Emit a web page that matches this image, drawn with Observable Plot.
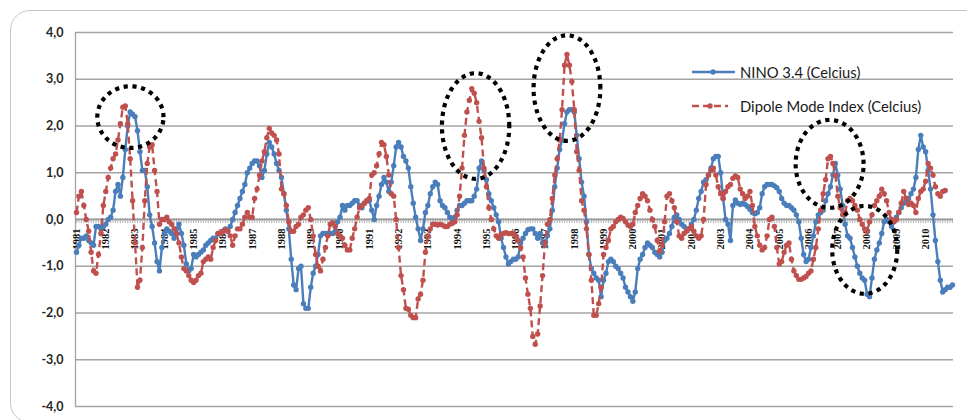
<!DOCTYPE html>
<html><head><meta charset="utf-8">
<script src="https://cdn.jsdelivr.net/npm/d3@7"></script>
<script src="https://cdn.jsdelivr.net/npm/@observablehq/plot@0.6"></script>
<style>
html,body{margin:0;padding:0;background:#fff;overflow:hidden;}
#wrap{position:relative;width:967px;height:420px;overflow:hidden;background:#fff;}
#frame{position:absolute;left:10px;top:10px;width:990px;height:413px;border:1.5px solid #c6c6c6;border-radius:20px;box-sizing:border-box;pointer-events:none}
#chart{position:absolute;left:0;top:0;}
#legend{position:absolute;left:690px;top:55px;font-family:Lato,"Open Sans",sans-serif;font-size:14.8px;color:#1a1a1a;line-height:34px}
#legend div{display:flex;align-items:center;height:34px}
#legend svg{margin-right:4px}
[aria-label^="y-axis"] text{font-weight:700;}
</style></head><body>
<div id="wrap"><div id="frame"></div><div id="chart"></div>
<div id="legend">
 <div><svg width="46" height="10"><line x1="2" y1="5" x2="45" y2="5" stroke="#4A7EBB" stroke-width="2.4"/><circle cx="23" cy="5" r="2.7" fill="#4A7EBB"/></svg><span id="l1"></span></div>
 <div><svg width="46" height="10"><line x1="2" y1="5" x2="38" y2="5" stroke="#C0504D" stroke-width="2.4" stroke-dasharray="7,4"/><circle cx="20" cy="5" r="2.7" fill="#C0504D"/></svg><span id="l2"></span></div>
</div></div>
<script>
// ---- data ----
const seriesNames = ["NINO 3.4 (Celcius)", "Dipole Mode Index (Celcius)"];
const firstYear = 1981;
// NINO 3.4 monthly anomalies, Jan 1981 - Dec 2010
const nino = [
 -0.7,-0.55,-0.4,-0.4,-0.35,-0.45,-0.5,-0.55,-0.15,-0.15,-0.2,-0.15,
 -0.1,0.0,0.05,0.2,0.6,0.75,0.5,0.9,1.5,2.0,2.3,2.25,
 2.2,1.9,1.45,1.05,1.05,0.7,0.1,-0.15,-0.5,-0.9,-1.1,-0.6,
 -0.3,-0.2,-0.25,-0.3,-0.4,-0.2,-0.1,-0.3,-0.55,-0.95,-1.1,-1.05,
 -0.75,-0.8,-0.75,-0.7,-0.65,-0.55,-0.5,-0.45,-0.4,-0.4,-0.3,-0.3,
 -0.25,-0.2,-0.25,-0.15,0.0,0.15,0.3,0.45,0.6,0.75,1.0,1.1,
 1.2,1.25,1.25,1.15,0.9,1.05,1.4,1.65,1.55,1.4,1.2,1.05,
 0.9,0.55,0.2,-0.2,-0.85,-1.4,-1.5,-1.05,-1.0,-1.8,-1.9,-1.9,
 -1.45,-1.15,-1.0,-0.75,-0.35,-0.3,-0.3,-0.3,-0.3,-0.3,-0.25,-0.05,
 0.05,0.3,0.2,0.3,0.3,0.35,0.4,0.4,0.3,0.25,0.35,0.4,
 0.4,0.2,0.0,0.3,0.5,0.75,0.9,0.8,0.6,0.8,1.15,1.55,
 1.65,1.55,1.35,1.25,1.1,0.7,0.35,0.05,-0.2,-0.45,-0.2,0.15,
 0.3,0.55,0.7,0.8,0.75,0.4,0.3,0.25,0.15,0.05,0.0,0.05,
 0.2,0.3,0.3,0.35,0.4,0.4,0.4,0.5,0.65,1.1,1.25,1.05,
 0.85,0.55,0.4,0.25,0.1,-0.05,-0.4,-0.6,-0.8,-0.95,-0.9,-0.85,
 -0.85,-0.8,-0.5,-0.4,-0.3,-0.22,-0.2,-0.2,-0.3,-0.4,-0.3,-0.5,
 -0.55,-0.35,-0.2,0.2,0.7,1.1,1.5,1.7,2.05,2.3,2.35,2.35,
 2.3,1.8,1.3,0.8,0.5,-0.05,-0.75,-1.05,-1.15,-1.25,-1.3,-1.65,
 -1.3,-1.15,-0.9,-0.85,-0.9,-1.0,-1.05,-1.15,-1.25,-1.45,-1.55,-1.65,
 -1.75,-1.55,-1.05,-0.85,-0.75,-0.6,-0.5,-0.55,-0.6,-0.7,-0.75,-0.8,
 -0.7,-0.45,-0.4,-0.3,-0.15,0.05,0.1,0.0,-0.1,-0.15,-0.2,-0.2,
 -0.1,0.0,0.2,0.45,0.6,0.8,0.85,0.95,1.1,1.3,1.35,1.35,
 1.0,0.45,0.0,-0.1,-0.45,0.3,0.42,0.35,0.32,0.35,0.32,0.28,
 0.22,0.15,0.12,0.15,0.25,0.55,0.7,0.75,0.75,0.75,0.72,0.68,
 0.6,0.45,0.35,0.3,0.3,0.25,0.2,0.1,-0.05,-0.4,-0.75,-0.9,
 -0.85,-0.6,-0.35,-0.05,0.1,0.15,0.2,0.4,0.55,0.7,0.95,1.2,
 0.95,0.65,0.3,-0.1,-0.35,-0.4,-0.6,-0.8,-1.0,-1.15,-1.25,-1.3,
 -1.6,-1.65,-1.25,-0.85,-0.65,-0.5,-0.3,-0.05,0.0,-0.05,-0.15,-0.05,
 0.05,0.15,0.25,0.35,0.4,0.45,0.55,0.65,0.9,1.5,1.8,1.55,
 1.45,1.05,0.65,0.1,-0.45,-0.9,-1.3,-1.55,-1.5,-1.45,-1.45,-1.4
];
// Dipole Mode Index monthly, Jan 1981 - Sep 2010
const dmi = [
 0.15,0.5,0.6,0.3,0.0,-0.25,-0.7,-1.1,-1.15,-0.75,-0.3,0.3,
 0.6,0.9,1.1,1.3,1.4,1.7,2.05,2.4,2.43,2.05,1.3,0.4,
 -0.5,-1.45,-1.3,-0.6,0.4,1.2,1.55,1.6,1.05,0.6,-0.1,0.0,
 0.0,0.05,-0.05,-0.1,-0.2,-0.3,-0.5,-0.8,-1.05,-1.1,-1.2,-1.3,
 -1.35,-1.3,-1.2,-1.15,-0.9,-0.85,-0.8,-0.85,-0.6,-0.45,-0.3,-0.3,
 -0.25,-0.22,-0.25,-0.35,-0.55,-0.35,-0.2,-0.2,-0.1,0.05,0.15,0.05,
 0.05,0.45,0.65,0.95,1.25,1.45,1.75,1.95,1.85,1.8,1.7,1.4,
 0.65,0.55,0.3,-0.05,-0.25,-0.25,-0.15,-0.1,0.05,0.1,0.2,0.25,
 0.0,-0.35,-0.75,-1.0,-1.1,-0.85,-0.6,-0.35,-0.1,-0.07,-0.15,-0.3,
 -0.35,-0.4,-0.55,-0.65,-0.65,-0.4,-0.2,0.05,0.25,0.3,0.35,0.4,
 0.45,0.95,1.0,1.15,1.4,1.65,1.6,1.35,0.95,0.55,0.5,0.0,
 -0.6,-1.2,-1.5,-1.9,-1.92,-2.05,-2.1,-2.1,-1.7,-1.6,-1.3,-0.7,
 -0.35,-0.2,-0.1,-0.1,-0.12,-0.1,-0.12,-0.15,-0.15,-0.1,-0.08,-0.05,
 0.1,0.5,1.1,1.8,2.3,2.55,2.8,2.7,2.5,2.1,1.75,1.1,
 0.7,0.25,0.0,-0.2,-0.35,-0.4,-0.32,-0.3,-0.28,-0.3,-0.3,-0.3,
 -0.35,-0.45,-0.6,-0.8,-1.25,-1.6,-1.9,-2.5,-2.67,-2.45,-1.85,-1.2,
 -0.5,-0.1,0.0,0.45,0.95,1.3,1.7,2.35,3.3,3.53,3.3,2.95,
 2.35,1.45,1.05,0.4,0.2,-0.2,-0.75,-1.3,-2.05,-2.05,-1.8,-1.45,
 -0.75,-0.6,-0.45,-0.2,-0.15,-0.05,0.0,0.05,0.02,-0.05,-0.12,-0.15,
 -0.1,0.15,0.3,0.45,0.55,0.5,0.4,0.2,0.0,-0.15,-0.45,-0.68,
 -0.55,-0.05,0.5,0.55,0.4,0.25,-0.05,-0.35,-0.4,-0.3,-0.25,-0.2,
 -0.15,-0.25,-0.35,-0.4,-0.35,0.0,0.75,0.95,1.05,1.1,0.95,0.7,
 0.55,0.45,0.6,0.7,0.75,0.88,0.93,0.9,0.65,0.55,0.45,0.5,
 0.6,0.3,-0.15,-0.35,-0.55,-0.65,-0.6,-0.35,0.0,0.05,-0.15,-0.6,
 -0.95,-0.9,-0.7,-0.55,-0.5,-0.85,-1.1,-1.2,-1.28,-1.28,-1.25,-1.22,
 -1.15,-1.1,-0.85,-0.6,-0.2,0.2,0.55,0.85,1.3,1.35,1.2,0.95,
 0.5,0.25,0.1,0.15,0.4,0.45,0.4,0.3,0.2,0.0,-0.1,-0.2,
 -0.25,-0.05,0.1,0.3,0.4,0.5,0.65,0.55,0.4,0.15,0.0,-0.05,
 0.0,0.15,0.35,0.6,0.45,0.32,0.35,0.3,0.15,0.45,0.6,0.65,
 0.82,1.2,1.1,0.95,0.7,0.55,0.5,0.6,0.62
];
const yTicks = [-4,-3,-2,-1,0,1,2,3,4];
const yearLabels = d3.range(1981, 2011);
// highlighted events (centre in year/°C, radii in years/°C)
const highlightT  = [1982.84, 1994.63, 1997.75, 2006.72, 2007.92];
const highlightV  = [2.19, 2.0, 2.81, 1.19, -0.65];
const highlightRT = [1.13, 1.15, 1.14, 1.16, 1.11];
const highlightRV = [0.66, 1.13, 1.13, 0.94, 0.94];

// ---- build tables ----
const ninoData = nino.map((v, i) => ({t: firstYear + i / 12, v}));
const dmiData = dmi.map((v, i) => ({t: firstYear + i / 12, v}));
const monthTicks = d3.range(0, 360).map(i => firstYear + i / 12);
const ellipsePts = [];
highlightT.forEach((t, k) => {
  for (let j = 0; j <= 120; j++) {
    const a = j / 120 * 2 * Math.PI;
    ellipsePts.push({id: k, t: t + highlightRT[k] * Math.cos(a), v: highlightV[k] + highlightRV[k] * Math.sin(a)});
  }
});

const blue = "#4A7EBB", red = "#C0504D";
const xDomain = [1980.966, 2010.951];

const plot = Plot.plot({
  width: 967, height: 420,
  marginLeft: 75, marginRight: 14, marginTop: 32, marginBottom: 14,
  style: {fontFamily: "Lato, 'Open Sans', sans-serif", fontSize: "12.5px", color: "#262626", background: "transparent"},
  x: {domain: xDomain, axis: null},
  y: {domain: [-4, 4], ticks: yTicks, tickFormat: d => d.toFixed(1).replace(".", ","), tickSize: 0, tickPadding: 12, label: null},
  marks: [
    Plot.ruleY(yTicks, {stroke: "#a4a4a4", strokeWidth: 1.3}),
    Plot.ruleX([xDomain[0]], {stroke: "#a4a4a4", strokeWidth: 1.3}),
    Plot.ruleY([0], {stroke: "#9a9a9a", strokeWidth: 1.3}),
    Plot.ruleX(monthTicks, {x: d => d, y1: 0, y2: 0, insetTop: -1, insetBottom: -4, stroke: "#a0a0a0", strokeWidth: 0.8}),
    Plot.text(yearLabels, {x: d => d, y: 0, text: d => String(d), rotate: -90, textAnchor: "end", dy: 9, fontFamily: "'Liberation Serif', serif", fontWeight: "bold", fontSize: 10.5, fill: "#111"}),
    Plot.line(ninoData, {x: "t", y: "v", stroke: blue, strokeWidth: 2.4}),
    Plot.dot(ninoData, {x: "t", y: "v", r: 2.7, fill: blue}),
    Plot.line(dmiData, {x: "t", y: "v", stroke: red, strokeWidth: 2.4, strokeDasharray: "7,4", strokeLinecap: "butt"}),
    Plot.dot(dmiData, {x: "t", y: "v", r: 2.7, fill: red}),
    Plot.line(ellipsePts, {x: "t", y: "v", z: "id", stroke: "#000", strokeWidth: 4.2, strokeDasharray: "4.2,4.6", strokeLinecap: "butt", strokeLinejoin: "miter"})
  ]
});
document.getElementById("chart").appendChild(plot);
document.getElementById("l1").textContent = seriesNames[0];
document.getElementById("l2").textContent = seriesNames[1];
</script>
</body></html>
